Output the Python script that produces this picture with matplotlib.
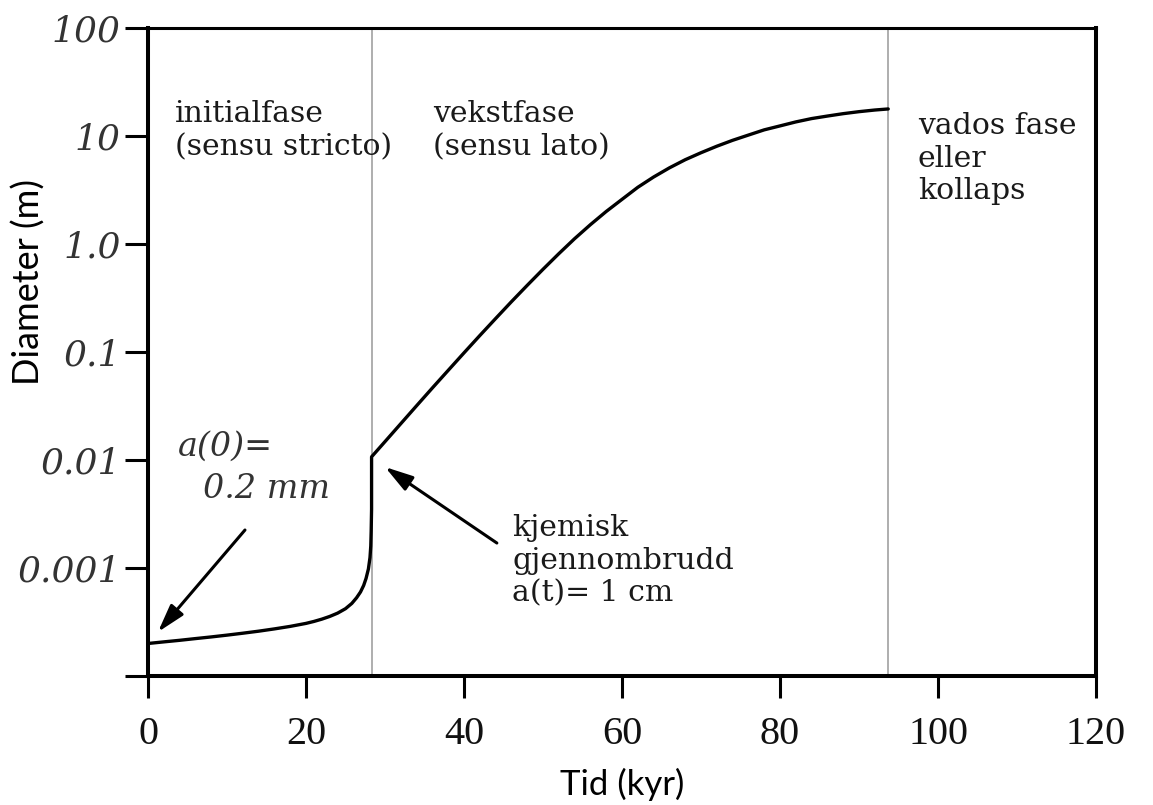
import matplotlib
matplotlib.use("Agg")
import matplotlib.pyplot as plt

# Diameter growth of a karst conduit (log scale)
tid = [0, 2, 4, 6, 8, 10, 12, 14, 16, 18, 20, 21, 22, 23, 24, 25, 25.8,
       26.4, 26.9, 27.3, 27.6, 27.9, 28.1, 28.2, 28.25, 28.3,
       28.3, 30, 32, 34, 36, 38, 40, 42, 44, 46, 48, 50, 52, 54, 56, 58,
       60, 62, 64, 66, 68, 70, 72, 74, 76, 78, 80, 82, 84, 86, 88, 90,
       92, 93.7]
diameter = [2.0e-4, 2.07e-4, 2.14e-4, 2.22e-4, 2.3e-4, 2.39e-4, 2.49e-4,
            2.6e-4, 2.73e-4, 2.88e-4, 3.07e-4, 3.2e-4, 3.36e-4, 3.56e-4,
            3.82e-4, 4.2e-4, 4.7e-4, 5.3e-4, 6.0e-4, 6.9e-4, 8.0e-4,
            9.8e-4, 1.25e-3, 1.6e-3, 2.2e-3, 3.5e-3,
            0.0107, 0.0148, 0.0217, 0.0318, 0.0465, 0.0676, 0.0982, 0.142,
            0.204, 0.292, 0.414, 0.583, 0.813, 1.12, 1.51, 2.00, 2.59,
            3.35, 4.17, 5.07, 6.03, 7.00, 8.04, 9.12, 10.2, 11.4, 12.4,
            13.5, 14.5, 15.3, 16.1, 16.8, 17.4, 17.8]

phase_bounds = [28.3, 93.7]

x_ticks = [0, 20, 40, 60, 80, 100, 120]
y_ticks = [1e-4, 1e-3, 1e-2, 1e-1, 1, 10, 100]
y_tick_labels = ["", "0.001", "0.01", "0.1", "1.0", "10", "100"]

fig = plt.figure(figsize=(11.53, 8.05), dpi=100)
ax = fig.add_axes([148 / 1153, 1 - 676 / 805, 948 / 1153, 648 / 805])

ax.set_yscale("log")
ax.set_xlim(0, 120)
ax.set_ylim(1e-4, 100)

for xb in phase_bounds:
    ax.axvline(xb, color="#999999", lw=1.1, zorder=1)

ax.plot(tid, diameter, color="black", lw=2.4, solid_joinstyle="round",
        solid_capstyle="round", zorder=3)

# ── axes styling ────────────────────────────────────────────
for side in ["left", "bottom", "right"]:
    ax.spines[side].set_linewidth(2.9)
ax.spines["top"].set_linewidth(2.2)

ax.set_xticks(x_ticks)
ax.set_xticklabels([str(v) for v in x_ticks], family="Liberation Serif",
                   fontsize=29, color="#111111")
ax.set_yticks(y_ticks)
ax.set_yticklabels(y_tick_labels, family="DejaVu Serif", style="italic",
                   fontsize=26, color="#333333")
ax.yaxis.set_minor_locator(matplotlib.ticker.NullLocator())
ax.tick_params(axis="x", direction="out", length=16, width=2.2, pad=13)
ax.tick_params(axis="y", direction="out", length=16.5, width=2.2, pad=3)

ax.set_xlabel("Tid (kyr)", family="Lato", fontsize=25, color="black")
ax.xaxis.set_label_coords(0.5, -0.142)
ax.set_ylabel("Diameter (m)", family="Lato", fontsize=26, color="black")
ax.yaxis.set_label_coords(-0.108, 0.608)

# ── phase labels ────────────────────────────────────────────
serif = dict(family="DejaVu Serif", fontsize=21.5, color="#1a1a1a",
             transform=ax.transAxes, va="top", ha="left")
ax.text(0.0285, 0.889, "initialfase\n(sensu stricto)", linespacing=1.25, **serif)
ax.text(0.3006, 0.889, "vekstfase\n(sensu lato)", linespacing=1.25, **serif)
ax.text(0.812, 0.870, "vados fase\neller\nkollaps", linespacing=1.2, **serif)
ax.text(0.384, 0.250, "kjemisk\ngjennombrudd\na(t)= 1 cm", linespacing=1.22, **serif)

ital = dict(family="DejaVu Serif", style="italic", fontsize=24, color="#333333",
            transform=ax.transAxes, va="top", ha="left")
ax.text(0.0316, 0.378, "a(0)=", **ital)
ax.text(0.058, 0.314, "0.2 mm", **ital)

arrow = dict(arrowstyle="-|>,head_length=0.85,head_width=0.25",
             color="black", lw=2.2, shrinkA=0, shrinkB=0, mutation_scale=20)
ax.annotate("", xy=(0.0105, 0.0679), xytext=(0.1023, 0.2253),
            xycoords="axes fraction", textcoords="axes fraction",
            arrowprops=arrow)
ax.annotate("", xy=(0.25, 0.3225), xytext=(0.368, 0.2052),
            xycoords="axes fraction", textcoords="axes fraction",
            arrowprops=arrow)

fig.savefig("out.png", dpi=100)
plt.close(fig)
